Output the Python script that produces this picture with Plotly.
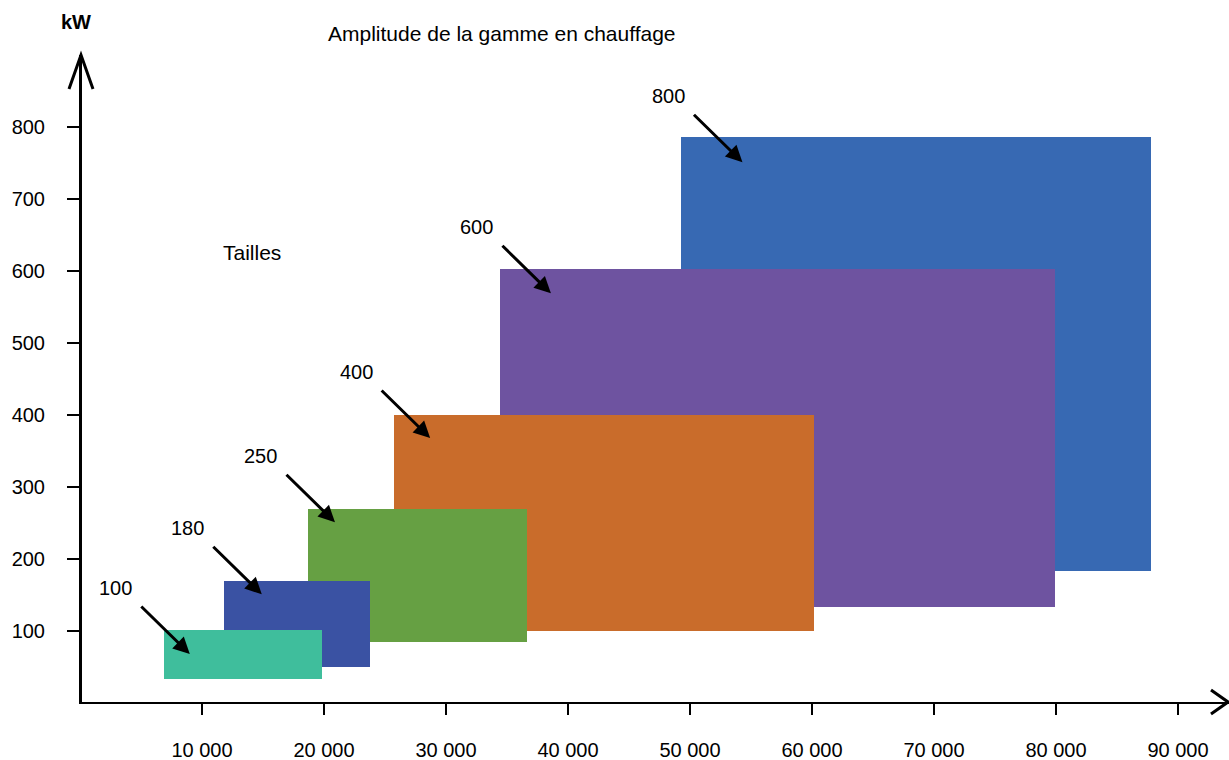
import plotly.graph_objects as go

# ---- data ----
sizes = ["800", "600", "400", "250", "180", "100"]
x_start = [49300, 34400, 25700, 18700, 11800, 6900]
x_end = [87800, 79900, 60200, 36600, 23800, 19800]
kw_low = [183, 133, 100, 85, 50, 33]
kw_high = [786, 603, 400, 269, 169, 101]
colors = ["#3769B3", "#6E53A0", "#C96C2B", "#66A043", "#3A52A3", "#3FBE9C"]
arrow_x = [54300, 38600, 28700, 20900, 14900, 9000]
arrow_y = [751, 569, 368, 251, 151, 68]

x_ticks = [10000, 20000, 30000, 40000, 50000, 60000, 70000, 80000, 90000]
x_ticktext = ["10 000", "20 000", "30 000", "40 000", "50 000",
              "60 000", "70 000", "80 000", "90 000"]
y_ticks = [100, 200, 300, 400, 500, 600, 700, 800]

title_text = "Amplitude de la gamme en chauffage"
unit_text = "kW"
legend_text = "Tailles"

# ---- layout geometry ----
W, H = 1229, 760
L, R, T, B = 82, 0, 55, 58
x0_px, x_scale = 80.0, 0.0122      # pixel of x=0, pixels per unit
y0_px, y_scale = 703.0, 0.72       # pixel of y=0, pixels per unit
x_range = [(L - x0_px) / x_scale, (W - R - x0_px) / x_scale]
y_range = [(y0_px - (H - B)) / y_scale, (y0_px - T) / y_scale]

pw, ph = W - L - R, H - T - B


def px_to_paper(px, py):
    return (px - L) / pw, ((H - B) - py) / ph


FONT = "Liberation Sans, Arial, sans-serif"

fig = go.Figure()
for s, xa, xb, yl, yh, c in zip(sizes, x_start, x_end, kw_low, kw_high, colors):
    fig.add_trace(go.Bar(
        x=[(xa + xb) / 2], width=[xb - xa], base=[yl], y=[yh - yl],
        marker=dict(color=c, line=dict(width=0)), name=s, showlegend=False,
        hovertemplate=f"Taille {s}<br>%{{base}}–{yh} kW<extra></extra>",
    ))

annotations = []
for s, ax_, ay_ in zip(sizes, arrow_x, arrow_y):
    annotations.append(dict(
        x=ax_, y=ay_, xref="x", yref="y", text="", showarrow=True,
        ax=-50, ay=-49, arrowhead=2, arrowsize=1.1, arrowwidth=3,
        arrowcolor="black",
    ))
    annotations.append(dict(
        x=ax_, y=ay_, xref="x", yref="y", text=s, showarrow=False,
        xanchor="center", yanchor="middle",
        xshift=-74, yshift=66, font=dict(family=FONT, size=20, color="black"),
    ))


def text_ann(px, py, text, size, bold=False):
    x, y = px_to_paper(px, py)
    return dict(x=x, y=y, xref="paper", yref="paper",
                text=("<b>" + text + "</b>") if bold else text,
                showarrow=False, xanchor="center", yanchor="middle",
                font=dict(family=FONT, size=size, color="black"))


annotations.append(text_ann(502, 33, title_text, 21))
annotations.append(text_ann(76, 22, unit_text, 20, bold=True))
annotations.append(text_ann(252, 252, legend_text, 21))


# axis arrow chevrons (decoration)
def chevron(p1, p2, p3, width):
    a = px_to_paper(*p1)
    b = px_to_paper(*p2)
    c = px_to_paper(*p3)
    return dict(type="path", xref="paper", yref="paper",
                path=f"M{a[0]},{a[1]} L{b[0]},{b[1]} L{c[0]},{c[1]}",
                line=dict(color="black", width=width), layer="above")


shapes = [
    chevron((69, 89), (81, 55), (93, 89), 3),
    chevron((1211, 690), (1228, 702), (1211, 714), 3),
]

fig.update_layout(
    width=W, height=H,
    margin=dict(l=L, r=R, t=T, b=B, pad=0),
    plot_bgcolor="white", paper_bgcolor="white",
    barmode="overlay", bargap=0,
    showlegend=False,
    annotations=annotations,
    shapes=shapes,
    font=dict(family=FONT, size=20, color="black"),
    xaxis=dict(range=x_range, tickvals=x_ticks, ticktext=x_ticktext,
               showgrid=False, zeroline=False, showline=True, linecolor="black",
               linewidth=2, ticks="outside", ticklen=11, tickwidth=1.5,
               tickcolor="black", ticklabelstandoff=18,
               tickfont=dict(family=FONT, size=20, color="black")),
    yaxis=dict(range=y_range, tickvals=y_ticks, showgrid=False, zeroline=False,
               showline=True, linecolor="black", linewidth=3, ticks="outside",
               ticklen=12, tickwidth=1.5, tickcolor="black", ticklabelstandoff=18,
               tickfont=dict(family=FONT, size=20, color="black")),
)

fig.write_html("out.html")
